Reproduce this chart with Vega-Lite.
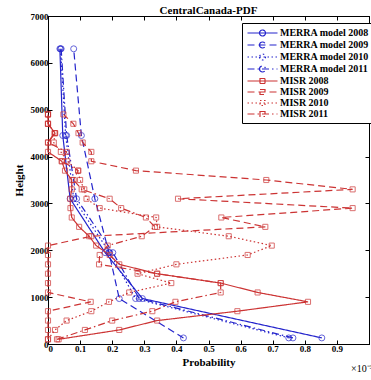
{
  "$schema": "https://vega.github.io/schema/vega-lite/v6.json",
  "width": 321,
  "height": 328,
  "autosize": "none",
  "padding": {"left": 48, "top": 16, "right": 2, "bottom": 36},
  "title": {"text": "CentralCanada-PDF", "font": "Liberation Serif", "fontSize": 11, "fontWeight": "bold", "color": "black", "offset": -4},
  "config": {
    "view": {"stroke": "black", "strokeWidth": 1},
    "axis": {"labelFont": "Liberation Serif", "labelFontWeight": "bold", "labelFontSize": 9, "labelColor": "black", "titleFont": "Liberation Serif", "titleFontWeight": "bold", "titleFontSize": 11, "titleColor": "black", "domainColor": "black", "tickColor": "black", "tickSize": -4, "grid": false, "labelPadding": 4}
  },
  "datasets": {
    "pdf": [
      {"s": "MERRA model 2008", "h": 6300, "p": 0.037}, {"s": "MERRA model 2008", "h": 4450, "p": 0.046}, {"s": "MERRA model 2008", "h": 3100, "p": 0.069}, {"s": "MERRA model 2008", "h": 1950, "p": 0.178}, {"s": "MERRA model 2008", "h": 970, "p": 0.294}, {"s": "MERRA model 2008", "h": 130, "p": 0.853},
      {"s": "MERRA model 2009", "h": 6300, "p": 0.08}, {"s": "MERRA model 2009", "h": 4450, "p": 0.104}, {"s": "MERRA model 2009", "h": 3100, "p": 0.146}, {"s": "MERRA model 2009", "h": 1950, "p": 0.19}, {"s": "MERRA model 2009", "h": 970, "p": 0.222}, {"s": "MERRA model 2009", "h": 130, "p": 0.422},
      {"s": "MERRA model 2010", "h": 6300, "p": 0.039}, {"s": "MERRA model 2010", "h": 4450, "p": 0.055}, {"s": "MERRA model 2010", "h": 3100, "p": 0.08}, {"s": "MERRA model 2010", "h": 1950, "p": 0.192}, {"s": "MERRA model 2010", "h": 970, "p": 0.273}, {"s": "MERRA model 2010", "h": 130, "p": 0.75},
      {"s": "MERRA model 2011", "h": 6300, "p": 0.041}, {"s": "MERRA model 2011", "h": 4450, "p": 0.058}, {"s": "MERRA model 2011", "h": 3100, "p": 0.089}, {"s": "MERRA model 2011", "h": 1950, "p": 0.202}, {"s": "MERRA model 2011", "h": 970, "p": 0.284}, {"s": "MERRA model 2011", "h": 130, "p": 0.763},
      {"s": "MISR 2008", "h": 100, "p": 0.033}, {"s": "MISR 2008", "h": 300, "p": 0.222}, {"s": "MISR 2008", "h": 500, "p": 0.34}, {"s": "MISR 2008", "h": 700, "p": 0.59}, {"s": "MISR 2008", "h": 900, "p": 0.81}, {"s": "MISR 2008", "h": 1100, "p": 0.653}, {"s": "MISR 2008", "h": 1300, "p": 0.538}, {"s": "MISR 2008", "h": 1500, "p": 0.34}, {"s": "MISR 2008", "h": 1700, "p": 0.222}, {"s": "MISR 2008", "h": 1900, "p": 0.192}, {"s": "MISR 2008", "h": 2100, "p": 0.15}, {"s": "MISR 2008", "h": 2300, "p": 0.128}, {"s": "MISR 2008", "h": 2500, "p": 0.097}, {"s": "MISR 2008", "h": 2700, "p": 0.074}, {"s": "MISR 2008", "h": 2900, "p": 0.07}, {"s": "MISR 2008", "h": 3100, "p": 0.069}, {"s": "MISR 2008", "h": 3300, "p": 0.074}, {"s": "MISR 2008", "h": 3500, "p": 0.074}, {"s": "MISR 2008", "h": 3700, "p": 0.053}, {"s": "MISR 2008", "h": 3900, "p": 0.043}, {"s": "MISR 2008", "h": 4100, "p": 0.0}, {"s": "MISR 2008", "h": 4300, "p": 0.0}, {"s": "MISR 2008", "h": 4500, "p": 0.022}, {"s": "MISR 2008", "h": 4700, "p": 0.0}, {"s": "MISR 2008", "h": 4900, "p": 0.0},
      {"s": "MISR 2009", "h": 100, "p": 0.0}, {"s": "MISR 2009", "h": 300, "p": 0.0}, {"s": "MISR 2009", "h": 500, "p": 0.0}, {"s": "MISR 2009", "h": 700, "p": 0.0}, {"s": "MISR 2009", "h": 900, "p": 0.133}, {"s": "MISR 2009", "h": 1100, "p": 0.0}, {"s": "MISR 2009", "h": 1300, "p": 0.0}, {"s": "MISR 2009", "h": 1500, "p": 0.0}, {"s": "MISR 2009", "h": 1700, "p": 0.0}, {"s": "MISR 2009", "h": 1900, "p": 0.0}, {"s": "MISR 2009", "h": 2100, "p": 0.0}, {"s": "MISR 2009", "h": 2300, "p": 0.135}, {"s": "MISR 2009", "h": 2500, "p": 0.677}, {"s": "MISR 2009", "h": 2700, "p": 0.54}, {"s": "MISR 2009", "h": 2900, "p": 0.949}, {"s": "MISR 2009", "h": 3100, "p": 0.405}, {"s": "MISR 2009", "h": 3300, "p": 0.949}, {"s": "MISR 2009", "h": 3500, "p": 0.68}, {"s": "MISR 2009", "h": 3700, "p": 0.274}, {"s": "MISR 2009", "h": 3900, "p": 0.135}, {"s": "MISR 2009", "h": 4100, "p": 0.135}, {"s": "MISR 2009", "h": 4300, "p": 0.108}, {"s": "MISR 2009", "h": 4500, "p": 0.095}, {"s": "MISR 2009", "h": 4700, "p": 0.079}, {"s": "MISR 2009", "h": 4900, "p": 0.048},
      {"s": "MISR 2010", "h": 100, "p": 0.0}, {"s": "MISR 2010", "h": 300, "p": 0.022}, {"s": "MISR 2010", "h": 500, "p": 0.058}, {"s": "MISR 2010", "h": 700, "p": 0.135}, {"s": "MISR 2010", "h": 900, "p": 0.19}, {"s": "MISR 2010", "h": 1100, "p": 0.253}, {"s": "MISR 2010", "h": 1300, "p": 0.384}, {"s": "MISR 2010", "h": 1500, "p": 0.279}, {"s": "MISR 2010", "h": 1700, "p": 0.4}, {"s": "MISR 2010", "h": 1900, "p": 0.622}, {"s": "MISR 2010", "h": 2100, "p": 0.697}, {"s": "MISR 2010", "h": 2300, "p": 0.563}, {"s": "MISR 2010", "h": 2500, "p": 0.34}, {"s": "MISR 2010", "h": 2700, "p": 0.337}, {"s": "MISR 2010", "h": 2900, "p": 0.161}, {"s": "MISR 2010", "h": 3100, "p": 0.12}, {"s": "MISR 2010", "h": 3300, "p": 0.113}, {"s": "MISR 2010", "h": 3500, "p": 0.1}, {"s": "MISR 2010", "h": 3700, "p": 0.094}, {"s": "MISR 2010", "h": 3900, "p": 0.06}, {"s": "MISR 2010", "h": 4100, "p": 0.04}, {"s": "MISR 2010", "h": 4300, "p": 0.018}, {"s": "MISR 2010", "h": 4500, "p": 0.022}, {"s": "MISR 2010", "h": 4700, "p": 0.0}, {"s": "MISR 2010", "h": 4900, "p": 0.0},
      {"s": "MISR 2011", "h": 100, "p": 0.028}, {"s": "MISR 2011", "h": 300, "p": 0.115}, {"s": "MISR 2011", "h": 500, "p": 0.2}, {"s": "MISR 2011", "h": 700, "p": 0.325}, {"s": "MISR 2011", "h": 900, "p": 0.397}, {"s": "MISR 2011", "h": 1100, "p": 0.538}, {"s": "MISR 2011", "h": 1300, "p": 0.538}, {"s": "MISR 2011", "h": 1500, "p": 0.34}, {"s": "MISR 2011", "h": 1700, "p": 0.159}, {"s": "MISR 2011", "h": 1900, "p": 0.161}, {"s": "MISR 2011", "h": 2100, "p": 0.186}, {"s": "MISR 2011", "h": 2300, "p": 0.292}, {"s": "MISR 2011", "h": 2500, "p": 0.333}, {"s": "MISR 2011", "h": 2700, "p": 0.305}, {"s": "MISR 2011", "h": 2900, "p": 0.228}, {"s": "MISR 2011", "h": 3100, "p": 0.192}, {"s": "MISR 2011", "h": 3300, "p": 0.105}, {"s": "MISR 2011", "h": 3500, "p": 0.08}, {"s": "MISR 2011", "h": 3700, "p": 0.094}, {"s": "MISR 2011", "h": 3900, "p": 0.043}, {"s": "MISR 2011", "h": 4100, "p": 0.058}, {"s": "MISR 2011", "h": 4300, "p": 0.0}, {"s": "MISR 2011", "h": 4500, "p": 0.02}, {"s": "MISR 2011", "h": 4700, "p": 0.0}, {"s": "MISR 2011", "h": 4900, "p": 0.0}
    ]
  },
  "resolve": {"axis": {"x": "independent", "y": "independent"}},
  "layer": [
    {
      "data": {"name": "pdf"},
      "mark": {"type": "line", "strokeWidth": 1.2},
      "encoding": {
        "x": {"field": "p", "type": "quantitative", "scale": {"domain": [0, 1], "nice": false}, "axis": {"values": [0, 0.1, 0.2, 0.3, 0.4, 0.5, 0.6, 0.7, 0.8, 0.9, 1], "labelExpr": "datum.value >= 1 ? '' : datum.label", "format": "~g", "title": "Probability", "titlePadding": 3}},
        "y": {"field": "h", "type": "quantitative", "scale": {"domain": [0, 7000], "nice": false}, "axis": {"values": [0, 1000, 2000, 3000, 4000, 5000, 6000, 7000], "format": "d", "title": "Height", "titlePadding": 6}},
        "color": {"field": "s", "type": "nominal", "scale": {"domain": ["MERRA model 2008", "MERRA model 2009", "MERRA model 2010", "MERRA model 2011", "MISR 2008", "MISR 2009", "MISR 2010", "MISR 2011"], "range": ["#2424cc", "#2424cc", "#2424cc", "#2424cc", "#cc3333", "#cc3333", "#cc3333", "#cc3333"]},
          "legend": {"title": null, "orient": "none", "legendX": 194, "legendY": 7, "strokeColor": "black", "fillColor": "white", "padding": 4, "cornerRadius": 0, "labelFont": "Liberation Serif", "labelFontWeight": "bold", "labelFontSize": 10, "labelColor": "black", "labelLimit": 200, "symbolSize": 100, "symbolOffset": 10.5, "labelOffset": 11.5, "rowPadding": 0, "symbolStrokeWidth": 1.2,
            "symbolType": "M-3,0H3M-0.6,0A0.6,0.6 0 1,0 0.6,0A0.6,0.6 0 1,0 -0.6,0",
            "encoding": {"symbols": {"shape": {"condition": {"test": "indexof(datum.value, 'MERRA') == 0", "value": "M-3,0H3M-0.6,0A0.6,0.6 0 1,0 0.6,0A0.6,0.6 0 1,0 -0.6,0"}, "value": "M-3,0H3M-0.5,-0.5H0.5V0.5H-0.5Z"}, "fill": {"value": "transparent"}}}}},
        "strokeDash": {"field": "s", "type": "nominal", "scale": {"domain": ["MERRA model 2008", "MERRA model 2009", "MERRA model 2010", "MERRA model 2011", "MISR 2008", "MISR 2009", "MISR 2010", "MISR 2011"], "range": [[1, 0], [7, 4], [1.5, 2.5], [7, 3, 1.5, 3], [1, 0], [7, 4], [1.5, 2.5], [7, 3, 1.5, 3]]}},
        "order": {"field": "h", "type": "quantitative"}
      }
    },
    {
      "data": {"name": "pdf"},
      "transform": [{"filter": "indexof(datum.s, 'MERRA') == 0"}],
      "mark": {"type": "point", "shape": "circle", "filled": false, "strokeWidth": 1, "size": 36},
      "encoding": {
        "x": {"field": "p", "type": "quantitative", "axis": {"orient": "top", "values": [0, 0.1, 0.2, 0.3, 0.4, 0.5, 0.6, 0.7, 0.8, 0.9, 1], "labels": false, "title": null}},
        "y": {"field": "h", "type": "quantitative", "axis": {"orient": "right", "values": [0, 1000, 2000, 3000, 4000, 5000, 6000, 7000], "labels": false, "title": null}},
        "color": {"field": "s", "type": "nominal"}
      }
    },
    {
      "data": {"name": "pdf"},
      "transform": [{"filter": "indexof(datum.s, 'MISR') == 0"}],
      "mark": {"type": "point", "shape": "square", "filled": false, "strokeWidth": 1, "size": 26},
      "encoding": {
        "x": {"field": "p", "type": "quantitative", "axis": null},
        "y": {"field": "h", "type": "quantitative", "axis": null},
        "color": {"field": "s", "type": "nominal"}
      }
    },
    {
      "data": {"values": [{"t": "×10⁻³"}]},
      "mark": {"type": "text", "font": "Liberation Serif", "fontSize": 10, "align": "left", "baseline": "middle", "dx": -18, "dy": 25, "color": "black"},
      "encoding": {
        "text": {"field": "t"},
        "x": {"datum": 1, "type": "quantitative", "axis": null},
        "y": {"datum": 0, "type": "quantitative", "axis": null}
      }
    }
  ]
}
